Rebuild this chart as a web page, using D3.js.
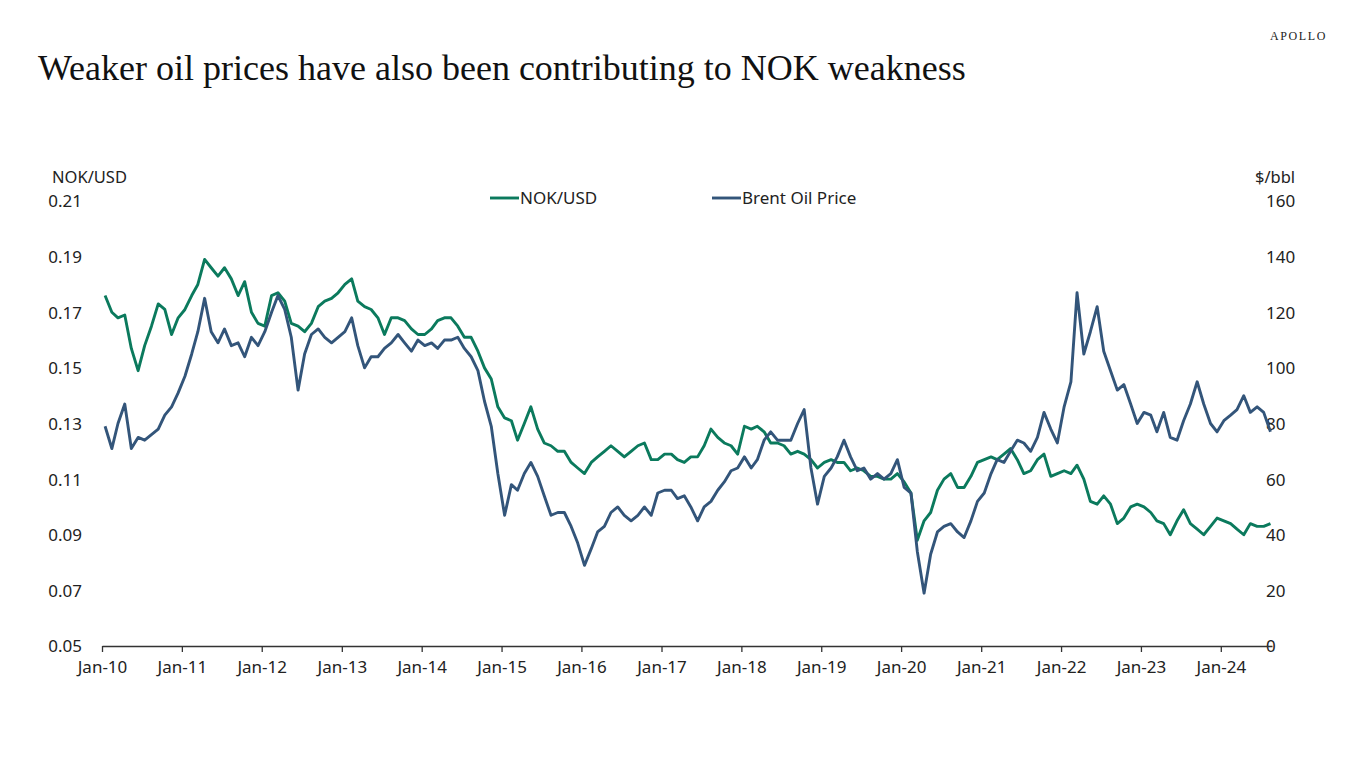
<!DOCTYPE html>
<html><head><meta charset="utf-8">
<script src="https://cdn.jsdelivr.net/npm/d3@7"></script>
<style>
html,body{margin:0;padding:0;background:#fff;}
svg{display:block;}
</style></head>
<body>
<svg id="chart" width="1366" height="768"></svg>
<script>
// ---- data (monthly, mid-month readings) ----
const startMonth = "2010-01";
const nokUsd = [
 0.176,0.170,0.168,0.169,0.157,0.149,0.158,0.165,0.173,0.171,0.162,0.168,
 0.171,0.176,0.180,0.189,0.186,0.183,0.186,0.182,0.176,0.181,0.170,0.166,
 0.165,0.176,0.177,0.174,0.166,0.165,0.163,0.166,0.172,0.174,0.175,0.177,
 0.180,0.182,0.174,0.172,0.171,0.168,0.162,0.168,0.168,0.167,0.164,0.162,
 0.162,0.164,0.167,0.168,0.168,0.165,0.161,0.161,0.156,0.150,0.146,0.136,
 0.132,0.131,0.124,0.130,0.136,0.128,0.123,0.122,0.120,0.120,0.116,0.114,
 0.112,0.116,0.118,0.120,0.122,0.120,0.118,0.120,0.122,0.123,0.117,0.117,
 0.119,0.119,0.117,0.116,0.118,0.118,0.122,0.128,0.125,0.123,0.122,0.119,
 0.129,0.128,0.129,0.127,0.123,0.123,0.122,0.119,0.120,0.119,0.117,0.114,
 0.116,0.117,0.116,0.116,0.113,0.114,0.113,0.111,0.111,0.110,0.110,0.112,
 0.109,0.105,0.088,0.095,0.098,0.106,0.110,0.112,0.107,0.107,0.111,0.116,
 0.117,0.118,0.117,0.119,0.121,0.117,0.112,0.113,0.117,0.119,0.111,0.112,
 0.113,0.112,0.115,0.110,0.102,0.101,0.104,0.101,0.094,0.096,0.100,0.101,
 0.100,0.098,0.095,0.094,0.090,0.095,0.099,0.094,0.092,0.090,0.093,0.096,
 0.095,0.094,0.092,0.090,0.094,0.093,0.093,0.094
];
const brentOil = [
 79,71,80,87,71,75,74,76,78,83,86,91,
 97,105,113,125,113,109,114,108,109,104,111,108,
 113,120,126,121,111,92,105,112,114,111,109,111,
 113,118,108,100,104,104,107,109,112,109,106,110,
 108,109,107,110,110,111,107,104,99,88,79,62,
 47,58,56,62,66,61,54,47,48,48,43,37,
 29,35,41,43,48,50,47,45,47,50,47,55,
 56,56,53,54,50,45,50,52,56,59,63,64,
 68,64,67,74,77,74,74,74,80,85,64,51,
 61,64,68,74,68,63,64,60,62,60,62,67,
 57,55,34,19,33,41,43,44,41,39,45,52,
 55,62,67,66,70,74,73,70,75,84,78,73,
 86,95,127,105,113,122,106,99,92,94,87,80,
 84,83,77,84,75,74,81,87,95,87,80,77,
 81,83,85,90,84,86,84,77
];
const leftTicks = [0.05,0.07,0.09,0.11,0.13,0.15,0.17,0.19,0.21];
const rightTicks = [0,20,40,60,80,100,120,140,160];
const seriesNames = ["NOK/USD","Brent Oil Price"];
const colors = {nok:"#0b7a5d", brent:"#33557a"};

// ---- build ----
const svg = d3.select("#chart");
const start = d3.timeParse("%Y-%m")(startMonth);
const dates = nokUsd.map((_, i) => d3.timeDay.offset(d3.timeMonth.offset(start, i), 14));

const x = d3.scaleTime().domain([new Date(2010,0,1), new Date(2024,7,22)]).range([102,1272]);
const yL = d3.scaleLinear().domain([0.05,0.21]).range([646,201]);
const yR = d3.scaleLinear().domain([0,160]).range([646,201]);

const labelFont = "'Noto Sans', 'Open Sans', sans-serif";
const fs = 17;

// title
const title = svg.append("text").attr("x",38).attr("y",80)
  .attr("font-family","'Liberation Serif','Times New Roman',serif")
  .attr("font-size",32).attr("fill","#111")
  .text("Weaker oil prices have also been contributing to NOK weakness");
const tw = title.node().getComputedTextLength();
title.attr("font-size", 32*928/tw);

svg.append("text").attr("x",1327).attr("y",40).attr("text-anchor","end")
  .attr("font-family","'Liberation Serif',serif").attr("font-size",12)
  .attr("letter-spacing","1.6").attr("fill","#222").text("APOLLO");

// axis titles
svg.append("text").attr("x",52).attr("y",183).attr("font-family",labelFont)
  .attr("font-size",16.5).attr("fill","#222").text("NOK/USD");
svg.append("text").attr("x",1255).attr("y",183).attr("font-family",labelFont)
  .attr("font-size",16.5).attr("fill","#222").text("$/bbl");

// left ticks
svg.append("g").selectAll("text").data(leftTicks).join("text")
  .attr("x",82).attr("y",d=>yL(d)).attr("dy","0.38em").attr("text-anchor","end")
  .attr("font-family",labelFont).attr("font-size",fs).attr("fill","#222")
  .text(d=>d3.format(".2f")(d));
// right ticks
svg.append("g").selectAll("text").data(rightTicks).join("text")
  .attr("x",1266).attr("y",d=>yR(d)).attr("dy","0.38em").attr("text-anchor","start")
  .attr("font-family",labelFont).attr("font-size",fs).attr("fill","#222")
  .text(d=>d);

// x axis
const xAxis = d3.axisBottom(x).ticks(d3.timeYear.every(1)).tickFormat(d3.timeFormat("%b-%y"))
  .tickSizeInner(6).tickSizeOuter(0);
const gx = svg.append("g").attr("transform","translate(0,646)").call(xAxis);
gx.select(".domain").attr("stroke","#333").attr("stroke-width",1.3);
gx.selectAll(".tick line").attr("stroke","#333").attr("stroke-width",1.3);
gx.selectAll(".tick text").attr("font-family",labelFont).attr("font-size",fs)
  .attr("fill","#222").attr("dy","1.05em");

// lines
const lineN = d3.line().x((d,i)=>x(dates[i])).y(d=>yL(d));
const lineB = d3.line().x((d,i)=>x(dates[i])).y(d=>yR(d));
svg.append("path").datum(nokUsd).attr("d",lineN).attr("fill","none")
  .attr("stroke",colors.nok).attr("stroke-width",2.9).attr("stroke-linejoin","round");
svg.append("path").datum(brentOil).attr("d",lineB).attr("fill","none")
  .attr("stroke",colors.brent).attr("stroke-width",2.9).attr("stroke-linejoin","round");

// legend
const leg = [{name:seriesNames[0],c:colors.nok,x:490},{name:seriesNames[1],c:colors.brent,x:712}];
const lg = svg.append("g").selectAll("g").data(leg).join("g");
lg.append("line").attr("x1",d=>d.x).attr("x2",d=>d.x+29).attr("y1",198).attr("y2",198)
  .attr("stroke",d=>d.c).attr("stroke-width",2.9);
lg.append("text").attr("x",d=>d.x+30).attr("y",198).attr("dy","0.36em")
  .attr("font-family",labelFont).attr("font-size",fs).attr("fill","#222").text(d=>d.name);
</script>
</body></html>
